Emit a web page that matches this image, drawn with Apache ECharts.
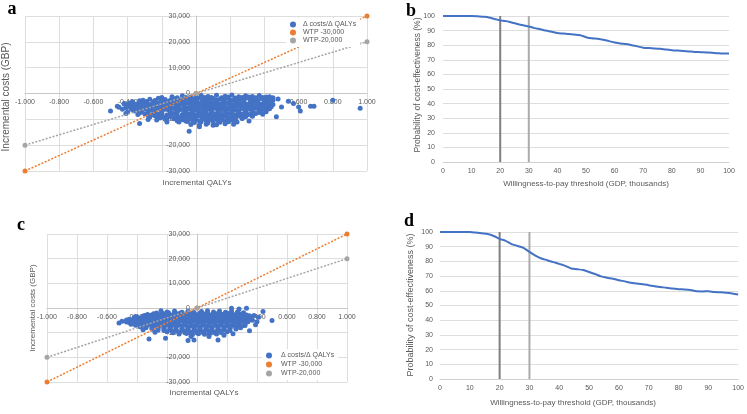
<!DOCTYPE html>
<html>
<head>
<meta charset="utf-8">
<script src="https://cdn.jsdelivr.net/npm/echarts@6/dist/echarts.min.js"></script>
<style>
html,body{margin:0;padding:0;background:#fff;}
#c{width:747px;height:414px;}
</style>
</head>
<body>
<div id="c"></div>
<script>
// ---------- DATA ----------
const seriesNames = ['Δ costs/Δ QALYs', 'WTP -30,000', 'WTP-20,000'];

// Panel a: incremental QALYs vs incremental costs (GBP)
const cloudA = [
[-0.14,-1300],[-0.08,-900],[-0.03,-1400],[0.03,-800],[0.07,-1200],[0.12,-700],[0.17,-1100],[0.21,-600],[0.25,-1300],[0.29,-900],[0.33,-1200],[0.37,-800],[0.41,-1400],
[-0.20,-1500],[-0.11,-1600],[-0.06,-1500],[0.00,-1400],[0.05,-1500],[0.09,-1500],[0.15,-1600],[0.19,-1400],[0.23,-1700],[0.27,-1500],[0.31,-1400],[0.35,-1600],[0.39,-1500],[0.43,-1300],
[-0.27,-2200],[-0.22,-1800],[-0.18,-2300],[-0.13,-2000],[-0.09,-2400],[-0.05,-1900],[-0.01,-2200],[0.02,-1700],[0.06,-2300],[0.10,-1900],[0.14,-2200],[0.18,-1800],[0.22,-2400],[0.26,-2000],[0.30,-1700],[0.34,-2300],[0.38,-1900],[0.42,-2100],[0.45,-1600],
[-0.31,-2600],[-0.24,-2700],[-0.20,-2500],[-0.15,-2600],[-0.11,-2500],[-0.07,-2700],[-0.03,-2500],[0.00,-2600],[0.04,-2500],[0.08,-2700],[0.12,-2500],[0.16,-2600],[0.20,-2500],[0.24,-2700],[0.28,-2500],[0.32,-2600],[0.36,-2700],[0.40,-2500],
[-0.37,-3200],[-0.33,-2800],[-0.29,-3100],[-0.25,-3300],[-0.20,-2900],[-0.16,-3200],[-0.11,-2800],[-0.07,-3300],[-0.03,-2900],[0.00,-3100],[0.04,-2700],[0.08,-3200],[0.12,-2900],[0.16,-3300],[0.20,-2800],[0.24,-3100],[0.28,-3300],[0.32,-2900],[0.36,-3200],[0.40,-2800],[0.44,-3300],
[-0.37,-3600],[-0.33,-3500],[-0.29,-3700],[-0.25,-3500],[-0.21,-3600],[-0.16,-3500],[-0.12,-3700],[-0.07,-3500],[-0.03,-3600],[0.01,-3500],[0.05,-3700],[0.08,-3500],[0.12,-3600],[0.16,-3500],[0.20,-3700],[0.24,-3500],[0.28,-3600],[0.32,-3500],[0.36,-3700],[0.40,-3500],[0.43,-3600],
[-0.42,-4100],[-0.39,-3700],[-0.35,-4200],[-0.31,-3900],[-0.27,-4300],[-0.23,-3800],[-0.18,-4100],[-0.14,-3700],[-0.09,-4200],[-0.05,-3800],[-0.01,-4300],[0.02,-3900],[0.06,-4200],[0.10,-3800],[0.14,-4100],[0.18,-3700],[0.22,-4300],[0.26,-3900],[0.30,-4200],[0.34,-3800],[0.38,-4100],[0.42,-3700],[0.45,-4300],
[-0.40,-4500],[-0.37,-4600],[-0.33,-4400],[-0.29,-4600],[-0.25,-4500],[-0.20,-4700],[-0.16,-4400],[-0.11,-4600],[-0.07,-4500],[-0.03,-4700],[0.00,-4500],[0.04,-4600],[0.08,-4400],[0.12,-4600],[0.16,-4500],[0.20,-4700],[0.24,-4400],[0.28,-4600],[0.32,-4500],[0.36,-4700],[0.40,-4400],[0.43,-4600],
[-0.45,-5300],[-0.40,-4900],[-0.36,-5200],[-0.33,-4800],[-0.29,-5100],[-0.25,-4700],[-0.21,-5300],[-0.16,-4900],[-0.12,-5200],[-0.07,-4800],[-0.03,-5100],[0.01,-4700],[0.05,-5300],[0.09,-4900],[0.13,-5200],[0.17,-4800],[0.21,-5100],[0.25,-4700],[0.29,-5300],[0.33,-4900],[0.37,-5200],[0.41,-4800],[0.44,-5100],
[-0.41,-5500],[-0.38,-5400],[-0.34,-5600],[-0.31,-5500],[-0.27,-5600],[-0.23,-5400],[-0.19,-5600],[-0.14,-5500],[-0.10,-5400],[-0.05,-5600],[-0.01,-5500],[0.03,-5400],[0.07,-5600],[0.11,-5500],[0.15,-5400],[0.19,-5600],[0.23,-5500],[0.27,-5400],[0.31,-5600],[0.35,-5500],[0.39,-5400],[0.42,-5600],
[-0.43,-6100],[-0.38,-5800],[-0.34,-6200],[-0.30,-5900],[-0.26,-6300],[-0.22,-5700],[-0.18,-6100],[-0.13,-5800],[-0.09,-6200],[-0.04,-5900],[0.00,-6300],[0.03,-5800],[0.07,-6100],[0.11,-5700],[0.15,-6200],[0.19,-5900],[0.23,-6300],[0.27,-5800],[0.31,-6100],[0.35,-5700],[0.39,-6200],[0.43,-5900],
[-0.37,-6500],[-0.32,-6600],[-0.28,-6400],[-0.24,-6600],[-0.20,-6500],[-0.16,-6400],[-0.11,-6600],[-0.07,-6500],[-0.02,-6400],[0.01,-6600],[0.05,-6500],[0.09,-6400],[0.13,-6600],[0.17,-6500],[0.21,-6400],[0.25,-6600],[0.29,-6500],[0.33,-6400],[0.37,-6600],[0.41,-6500],
[-0.40,-7200],[-0.36,-6800],[-0.32,-7100],[-0.28,-6700],[-0.24,-7300],[-0.20,-6900],[-0.15,-7200],[-0.11,-6800],[-0.06,-7100],[-0.02,-6700],[0.02,-7300],[0.05,-6900],[0.09,-7200],[0.13,-6800],[0.17,-7100],[0.21,-6700],[0.25,-7200],[0.29,-6900],[0.33,-7300],[0.37,-6800],[0.41,-7100],
[-0.33,-7500],[-0.28,-7600],[-0.24,-7400],[-0.20,-7600],[-0.15,-7500],[-0.11,-7400],[-0.06,-7600],[-0.02,-7500],[0.02,-7400],[0.06,-7600],[0.09,-7500],[0.13,-7400],[0.17,-7600],[0.21,-7500],[0.25,-7400],[0.29,-7600],[0.33,-7500],[0.37,-7400],
[-0.34,-8100],[-0.30,-7800],[-0.26,-8200],[-0.22,-7900],[-0.17,-8300],[-0.13,-7700],[-0.08,-8100],[-0.04,-7800],[0.00,-8200],[0.04,-7900],[0.07,-8300],[0.11,-7800],[0.15,-8100],[0.19,-7700],[0.23,-8200],[0.27,-7900],[0.31,-8100],[0.35,-7700],[0.39,-8000],
[-0.28,-8500],[-0.24,-8600],[-0.20,-8400],[-0.15,-8600],[-0.11,-8500],[-0.06,-8400],[-0.02,-8600],[0.02,-8500],[0.05,-8400],[0.09,-8600],[0.13,-8500],[0.17,-8400],[0.21,-8600],[0.25,-8500],[0.29,-8400],[0.33,-8600],
[-0.27,-9100],[-0.23,-8800],[-0.19,-9200],[-0.15,-8900],[-0.10,-9300],[-0.06,-8800],[-0.02,-9100],[0.02,-8700],[0.06,-9200],[0.09,-8900],[0.13,-9300],[0.17,-8800],[0.21,-9100],[0.25,-8700],[0.29,-9000],[0.33,-8800],
[-0.21,-9500],[-0.17,-9600],[-0.12,-9400],[-0.08,-9600],[-0.04,-9500],[0.00,-9400],[0.04,-9600],[0.08,-9500],[0.11,-9400],[0.15,-9600],[0.19,-9500],[0.23,-9400],[0.27,-9600],
[-0.18,-10000],[-0.13,-9800],[-0.08,-10200],[-0.04,-9900],[0.00,-10300],[0.04,-9800],[0.08,-10100],[0.11,-9700],[0.15,-10200],[0.19,-9900],[0.23,-10100],[0.27,-9700],
[-0.11,-10500],[-0.06,-10600],[-0.02,-10400],[0.02,-10600],[0.06,-10500],[0.10,-10400],[0.13,-10600],[0.17,-10500],[0.21,-10400],
[-0.10,-11000],[-0.05,-10800],[-0.01,-11200],[0.03,-10900],[0.07,-11300],[0.10,-10800],[0.14,-11100],[0.19,-10900],[0.24,-11000],
[-0.03,-12000],[0.02,-12200],[0.06,-11900],[0.12,-12100],[0.17,-11700],
[0.02,-12900],[0.10,-12300],[0.22,-11900],[0.31,-10600],[-0.28,-10100],[-0.23,-10300],[-0.17,-11000],[-0.33,-11600],
[-0.50,-6800],[-0.46,-4900],[-0.42,-3900],[-0.38,-5400],[-0.41,-7700],[-0.04,-14600],
[0.45,-2600],[0.48,-2100],[0.50,-5200],[0.47,-9000],[0.54,-3000],[0.57,-3900],[0.61,-6800],[0.60,-5200],[0.67,-4900],[0.69,-4900],[0.80,-2600],[0.96,-5700]
];

// Panel c: incremental QALYs vs incremental costs (GBP)
const cloudC = [
[-0.20,-1600],[-0.15,-1200],[-0.10,-1700],[-0.06,-1300],[-0.02,-1800],[0.03,-1400],[0.07,-1100],[0.11,-1600],[0.15,-1200],[0.19,-1700],[0.23,-1300],[0.27,-1600],[0.31,-1900],
[-0.27,-2000],[-0.23,-2100],[-0.19,-1900],[-0.15,-2100],[-0.11,-2000],[-0.06,-1900],[-0.02,-2100],[0.02,-2000],[0.07,-1900],[0.11,-2100],[0.15,-2000],[0.19,-1900],[0.23,-2100],[0.27,-2000],[0.31,-2200],
[-0.33,-2600],[-0.29,-2300],[-0.25,-2700],[-0.21,-2400],[-0.17,-2800],[-0.13,-2300],[-0.08,-2600],[-0.04,-2200],[0.00,-2700],[0.05,-2400],[0.09,-2800],[0.13,-2300],[0.17,-2600],[0.21,-2200],[0.25,-2700],[0.29,-2400],[0.33,-2800],
[-0.35,-3000],[-0.31,-2900],[-0.27,-3100],[-0.23,-3000],[-0.19,-2900],[-0.15,-3100],[-0.10,-3000],[-0.06,-2900],[-0.02,-3100],[0.03,-3000],[0.07,-2900],[0.11,-3100],[0.15,-3000],[0.19,-2900],[0.23,-3100],[0.27,-3000],[0.31,-2900],[0.35,-3100],
[-0.40,-3700],[-0.36,-3300],[-0.32,-3600],[-0.28,-3200],[-0.24,-3700],[-0.19,-3400],[-0.15,-3800],[-0.11,-3300],[-0.06,-3600],[-0.02,-3200],[0.02,-3700],[0.06,-3400],[0.10,-3800],[0.14,-3300],[0.18,-3600],[0.22,-3200],[0.26,-3700],[0.30,-3400],[0.34,-3800],
[-0.42,-4000],[-0.38,-4100],[-0.34,-3900],[-0.30,-4100],[-0.26,-4000],[-0.22,-3900],[-0.17,-4100],[-0.13,-4000],[-0.09,-3900],[-0.04,-4100],[0.00,-4000],[0.04,-3900],[0.08,-4100],[0.12,-4000],[0.16,-3900],[0.20,-4100],[0.24,-4000],[0.28,-3900],[0.32,-4100],[0.36,-4000],
[-0.45,-4600],[-0.41,-4300],[-0.37,-4700],[-0.33,-4400],[-0.29,-4800],[-0.25,-4300],[-0.21,-4600],[-0.17,-4200],[-0.13,-4700],[-0.08,-4400],[-0.04,-4800],[0.00,-4300],[0.04,-4600],[0.08,-4200],[0.12,-4700],[0.16,-4400],[0.20,-4800],[0.24,-4300],[0.28,-4600],[0.32,-4400],[0.36,-4700],
[-0.43,-5000],[-0.39,-5100],[-0.35,-4900],[-0.31,-5100],[-0.27,-5000],[-0.23,-4900],[-0.19,-5100],[-0.15,-5000],[-0.11,-4900],[-0.06,-5100],[-0.02,-5000],[0.02,-4900],[0.06,-5100],[0.10,-5000],[0.14,-4900],[0.18,-5100],[0.22,-5000],[0.26,-4900],[0.30,-5100],[0.34,-5000],
[-0.47,-5700],[-0.43,-5300],[-0.39,-5600],[-0.35,-5200],[-0.31,-5700],[-0.27,-5400],[-0.23,-5800],[-0.19,-5300],[-0.15,-5600],[-0.10,-5200],[-0.06,-5700],[-0.02,-5400],[0.02,-5800],[0.06,-5300],[0.10,-5600],[0.14,-5200],[0.18,-5700],[0.22,-5400],[0.26,-5800],[0.30,-5300],[0.34,-5600],
[-0.45,-6000],[-0.41,-6100],[-0.37,-5900],[-0.33,-6100],[-0.29,-6000],[-0.25,-5900],[-0.21,-6100],[-0.17,-6000],[-0.13,-5900],[-0.08,-6100],[-0.04,-6000],[0.00,-5900],[0.04,-6100],[0.08,-6000],[0.12,-5900],[0.16,-6100],[0.20,-6000],[0.24,-5900],[0.28,-6100],[0.32,-6000],
[-0.44,-6600],[-0.40,-6300],[-0.36,-6700],[-0.32,-6400],[-0.28,-6800],[-0.24,-6300],[-0.20,-6600],[-0.16,-6200],[-0.12,-6700],[-0.08,-6400],[-0.04,-6800],[0.00,-6300],[0.04,-6600],[0.08,-6200],[0.12,-6700],[0.16,-6400],[0.20,-6800],[0.24,-6300],[0.28,-6600],[0.32,-6500],
[-0.41,-7000],[-0.37,-7100],[-0.33,-6900],[-0.29,-7100],[-0.25,-7000],[-0.21,-6900],[-0.17,-7100],[-0.13,-7000],[-0.08,-6900],[-0.04,-7100],[0.00,-7000],[0.04,-6900],[0.08,-7100],[0.12,-7000],[0.16,-6900],[0.20,-7100],[0.24,-7000],[0.28,-6900],[0.32,-7100],
[-0.38,-7600],[-0.34,-7300],[-0.30,-7700],[-0.26,-7400],[-0.22,-7800],[-0.18,-7300],[-0.14,-7600],[-0.10,-7200],[-0.06,-7700],[-0.02,-7400],[0.02,-7800],[0.06,-7300],[0.10,-7600],[0.14,-7200],[0.18,-7700],[0.22,-7400],[0.26,-7600],[0.30,-7300],
[-0.34,-8000],[-0.30,-8100],[-0.26,-7900],[-0.22,-8100],[-0.18,-8000],[-0.14,-7900],[-0.10,-8100],[-0.06,-8000],[-0.02,-7900],[0.02,-8100],[0.06,-8000],[0.10,-7900],[0.14,-8100],[0.18,-8000],[0.22,-7900],[0.26,-8100],[0.29,-8000],
[-0.30,-8600],[-0.26,-8300],[-0.22,-8700],[-0.18,-8400],[-0.14,-8800],[-0.10,-8300],[-0.06,-8600],[-0.02,-8200],[0.02,-8700],[0.06,-8400],[0.10,-8800],[0.14,-8300],[0.18,-8600],[0.22,-8200],[0.26,-8500],
[-0.26,-9000],[-0.22,-9100],[-0.18,-8900],[-0.14,-9100],[-0.10,-9000],[-0.06,-8900],[-0.02,-9100],[0.02,-9000],[0.06,-8900],[0.10,-9100],[0.14,-9000],[0.18,-8900],[0.22,-9100],
[-0.20,-9600],[-0.16,-9300],[-0.12,-9700],[-0.08,-9400],[-0.04,-9800],[0.00,-9300],[0.04,-9600],[0.08,-9200],[0.12,-9700],[0.16,-9400],[0.20,-9600],
[-0.16,-10000],[-0.12,-10100],[-0.08,-9900],[-0.04,-10100],[0.00,-10000],[0.04,-9900],[0.08,-10100],[0.12,-10000],[0.16,-9900],
[-0.12,-10500],[-0.07,-10300],[-0.03,-10700],[0.01,-10400],[0.05,-10600],[0.09,-10200],[0.13,-10500],
[-0.52,-6100],[-0.50,-5400],[-0.47,-4900],[-0.41,-3400],[-0.32,-12600],[-0.24,-1100],[-0.21,-12300],[-0.06,-13200],[-0.02,-13000],[-0.04,-11600],[0.14,-13000],
[0.33,-100],[0.44,-1400],[0.50,-5100],[0.39,-6800],[0.35,-9200],[0.41,-3800],[0.23,-100],[0.28,-400],[0.38,-3000],[0.37,-5000],[0.40,-5600],
[-0.36,-8800],[-0.28,-9800],[0.24,-10400],[0.18,-11000],[0.08,-11600]
];

// Willingness-to-pay threshold lines
const wtp30 = [[-1,-30000],[0,0],[1,30000]];
const wtp20 = [[-1,-20000],[0,0],[1,20000]];

// CEAC panels b and d (x: WTP threshold in thousands, y: probability %)
const ceacX = [0,4,8,10,12,14,16,18,20,22,24,26,28,30,32,34,36,38,40,42,44,46,48,50,52,54,56,58,60,62,64,66,68,70,72,74,76,78,80,82,84,86,88,90,92,94,96,98,100];
const ceacB = [100,100,100,100,99.9,99.5,99,98,97,96.5,95.5,94.5,93.6,92.8,91.7,90.9,90,89.2,88.3,88,87.6,87.3,86.8,85.5,84.7,84.4,83.8,82.8,81.9,81.2,80.8,80,79.2,78.3,78,77.8,77.5,77,76.6,76.3,76,75.7,75.4,75.2,75,74.8,74.5,74.3,74.4];
const ceacD = [100,100,100,100,99.6,99.1,98.6,97.3,95.3,94,91.8,90.5,89.2,86.5,84,82,80.8,79.5,78.3,77,75.2,74.7,74.1,72.8,71.4,69.8,68.9,68.2,67.2,66.4,65.5,65,64.4,63.8,63.1,62.6,62,61.6,61.1,60.9,60.5,59.7,59.6,59.7,59.2,59,58.7,58.2,57.5];
const thresholds = [20, 30];

// ---------- CHART ----------
const FONT = 'Liberation Sans, Arial, sans-serif';
const TXT = '#595959';
const GRIDC = '#dedede';
const BLUE = '#4472C4', ORANGE = '#ED7D31', GREY = '#A5A5A5';

const pairs = (xs, ys) => xs.map((x, i) => [x, ys[i]]);
const vline = (x) => [[x, 0], [x, 100]];
const fmtQ = v => v.toFixed(3);
const fmtC = v => (Math.abs(v) < 1e-9 ? '0' : Math.round(v).toLocaleString('en-US'));

// grid geometry (needed to move axis lines + labels onto the origin)
const G = [
  { left: 25, top: 16, width: 342, height: 155 },
  { left: 443, top: 16, width: 286, height: 146 },
  { left: 47, top: 234, width: 300, height: 148 },
  { left: 440, top: 232, width: 300, height: 147 }
];

function scatterAxes(gi, lm, ym) {
  const g = G[gi];
  return {
    x: {
      type: 'value', gridIndex: gi, min: -1, max: 1, interval: 0.2, position: 'bottom',
      offset: -g.height / 2,
      axisLine: { show: true, onZero: false, lineStyle: { color: '#c8c8c8', width: 1 } },
      axisTick: { show: false },
      axisLabel: { formatter: fmtQ, fontSize: 7, color: TXT, fontFamily: FONT, margin: lm },
      splitLine: { show: true, lineStyle: { color: GRIDC, width: 1 } }
    },
    y: {
      type: 'value', gridIndex: gi, min: -30000, max: 30000, interval: 10000, position: 'left',
      offset: -g.width / 2,
      axisLine: { show: true, onZero: false, lineStyle: { color: '#c8c8c8', width: 1 } },
      axisTick: { show: false },
      axisLabel: { formatter: fmtC, fontSize: 7, color: TXT, fontFamily: FONT, margin: ym },
      splitLine: { show: true, lineStyle: { color: GRIDC, width: 1 } }
    }
  };
}
function ceacAxes(gi, xm, ym) {
  return {
    x: {
      type: 'value', gridIndex: gi, min: 0, max: 100, interval: 10,
      axisLine: { show: true, onZero: false, lineStyle: { color: '#d0d0d0', width: 1 } },
      axisTick: { show: false },
      axisLabel: { fontSize: 7, color: TXT, fontFamily: FONT, margin: xm },
      splitLine: { show: false }
    },
    y: {
      type: 'value', gridIndex: gi, min: 0, max: 100, interval: 10,
      axisLine: { show: false },
      axisTick: { show: false },
      axisLabel: { fontSize: 7, color: TXT, fontFamily: FONT, margin: ym },
      splitLine: { show: true, lineStyle: { color: GRIDC, width: 1 } }
    }
  };
}
const aA = scatterAxes(0, 5, 6);
const aB = ceacAxes(1, 6, 8);
const aC = scatterAxes(2, 6, 7);
const aD = ceacAxes(3, 6, 7);

function scatterSeries(xi, data) {
  return { name: seriesNames[0], type: 'scatter', xAxisIndex: xi, yAxisIndex: xi, data: data,
    symbol: 'circle', symbolSize: 5, itemStyle: { color: BLUE, opacity: 1 }, z: 2 };
}
function wtpSeries(xi, name, data, color) {
  return { name: name, type: 'line', xAxisIndex: xi, yAxisIndex: xi, data: data,
    symbol: 'circle', symbolSize: 5, showSymbol: true,
    itemStyle: { color: color }, lineStyle: { color: color, width: 1.5, type: [2, 1.6] }, z: 3 };
}
function ceacSeries(xi, ys) {
  return { name: 'ceac' + xi, type: 'line', xAxisIndex: xi, yAxisIndex: xi, data: pairs(ceacX, ys),
    showSymbol: false, symbol: 'none', smooth: 0.3,
    lineStyle: { color: BLUE, width: 2 }, z: 3 };
}
function thrSeries(xi, x, color) {
  return { name: 'thr' + xi + '_' + x, type: 'line', xAxisIndex: xi, yAxisIndex: xi, data: vline(x),
    showSymbol: false, symbol: 'none', lineStyle: { color: color, width: 2 }, z: 2 };
}

function label(text, x, y, size, rot, bold, serif) {
  return { type: 'text', x: x, y: y, rotation: rot || 0, z: 10,
    style: { text: text, fill: bold ? '#000' : TXT, align: 'center', verticalAlign: 'middle',
      textAlign: 'center', textVerticalAlign: 'middle',
      font: (bold ? 'bold ' : '') + size + 'px ' + (serif ? '"Liberation Serif", "Times New Roman", serif' : FONT) } };
}

const chart = echarts.init(document.getElementById('c'), null, { renderer: 'canvas' });
chart.setOption({
  animation: false,
  backgroundColor: '#fff',
  grid: G,
  xAxis: [aA.x, aB.x, aC.x, aD.x],
  yAxis: [aA.y, aB.y, aC.y, aD.y],
  legend: [
    { data: seriesNames, orient: 'vertical', left: 286, top: 18, icon: 'circle',
      itemWidth: 6, itemHeight: 6, itemGap: 1, padding: [3, 4, 3, 4], backgroundColor: '#fff',
      textStyle: { fontSize: 7, color: TXT, fontFamily: FONT, padding: [0, 0, 0, 2] } },
    { data: seriesNames, orient: 'vertical', left: 262, top: 349, icon: 'circle',
      itemWidth: 6, itemHeight: 6, itemGap: 2, padding: [3, 4, 3, 4], backgroundColor: '#fff',
      textStyle: { fontSize: 7, color: TXT, fontFamily: FONT, padding: [0, 0, 0, 4] } }
  ],
  series: [
    scatterSeries(0, cloudA),
    wtpSeries(0, seriesNames[1], wtp30, ORANGE),
    wtpSeries(0, seriesNames[2], wtp20, GREY),
    ceacSeries(1, ceacB),
    thrSeries(1, thresholds[0], '#7f7f7f'),
    thrSeries(1, thresholds[1], '#ababab'),
    scatterSeries(2, cloudC),
    wtpSeries(2, seriesNames[1], wtp30, ORANGE),
    wtpSeries(2, seriesNames[2], wtp20, GREY),
    ceacSeries(3, ceacD),
    thrSeries(3, thresholds[0], '#7f7f7f'),
    thrSeries(3, thresholds[1], '#ababab')
  ],
  graphic: [
    label('a', 12, 9, 18, 0, true, true),
    label('b', 411, 11, 18, 0, true, true),
    label('c', 21, 225, 18, 0, true, true),
    label('d', 409, 221, 18, 0, true, true),
    label('Incremental QALYs', 197, 183, 8, 0),
    label('Incremental costs (GBP)', 6, 97, 10, Math.PI / 2),
    label('Incremental QALYs', 204, 393, 8, 0),
    label('Incremental costs (GBP)', 33, 308, 8, Math.PI / 2),
    label('Willingness-to-pay threshold (GDP, thousands)', 586, 184, 8, 0),
    label('Probability of cost-effectiveness (%)', 418, 85, 8.5, Math.PI / 2),
    label('Willingness-to-pay threshold (GDP, thousands)', 573, 403, 8, 0),
    label('Probability of cost-effectiveness (%)', 411, 305, 9, Math.PI / 2)
  ]
});
</script>
</body>
</html>
